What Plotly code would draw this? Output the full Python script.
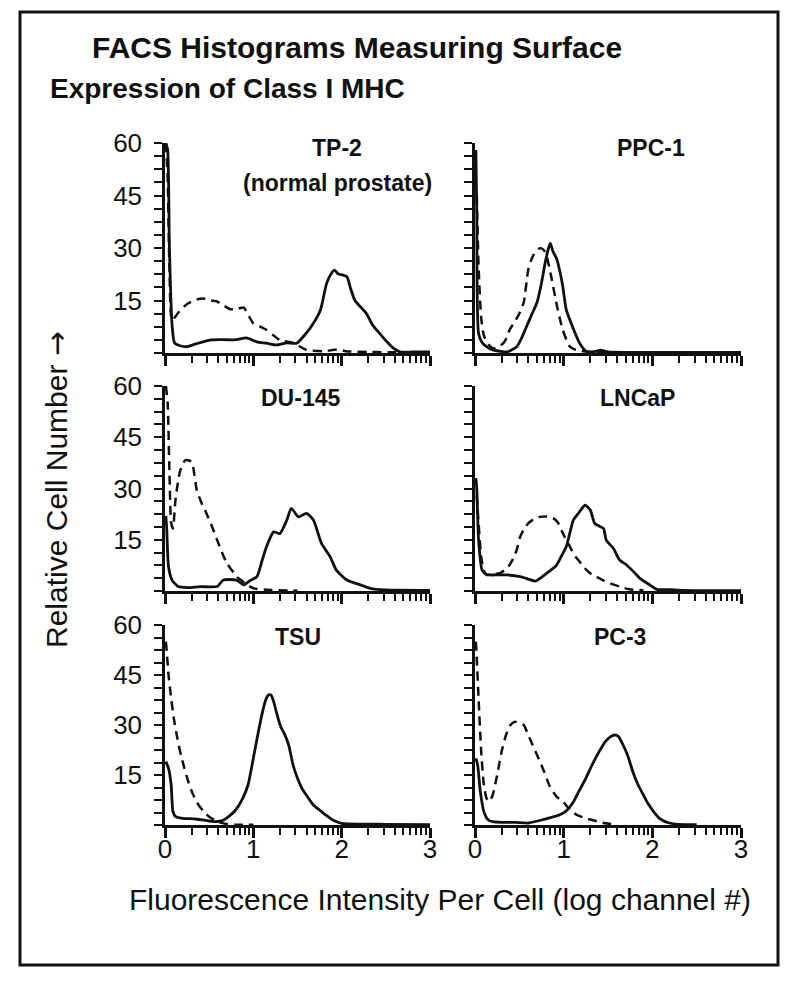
import plotly.graph_objects as go
import numpy as np

# ---------------- data ----------------
panel_names = ["TP-2", "PPC-1", "DU-145", "LNCaP", "TSU", "PC-3"]
panel_subtitles = ["(normal prostate)", "", "", "", "", ""]

tp2_solid_x = [0.01,0.03,0.05,0.08,0.11,0.18,0.25,0.35,0.51,0.65,0.81,0.92,1.04,1.15,1.26,1.38,1.49,1.6,1.68,1.76,1.83,1.89,1.92,1.96,2.01,2.06,2.1,2.15,2.22,2.28,2.35,2.43,2.52,2.59,2.66,2.8,3.0]
tp2_solid_y = [60,58,30,8,2.8,2.0,1.8,2.6,3.7,3.8,3.8,4.3,3.2,2.8,2.3,2.9,2.8,5.7,8.5,12.3,19.9,23,23.7,22.6,22.3,21.8,18.5,15,13,11.3,8,5.6,3,1.3,0.3,0.3,0.3]
tp2_dash_x = [0.01,0.03,0.05,0.08,0.15,0.25,0.36,0.43,0.52,0.59,0.67,0.74,0.82,0.89,0.95,1.0,1.08,1.15,1.23,1.3,1.45,1.6,1.8,1.95,2.05,2.3,2.6,3.0]
tp2_dash_y = [60,50,25,9.4,11.5,14,15.3,15.6,15,14.7,13.5,12.5,12.6,13,10.5,8.5,7.5,6.6,5,3.7,2.9,0.9,0.5,1,0.5,0.3,0.2,0.2]

ppc1_solid_x = [0.01,0.02,0.04,0.08,0.13,0.2,0.28,0.36,0.47,0.52,0.58,0.64,0.7,0.75,0.79,0.83,0.85,0.88,0.92,0.96,0.99,1.03,1.1,1.18,1.26,1.35,1.42,1.5,1.8,2.5,3.0]
ppc1_solid_y = [58,40,5.6,3,1.8,0.9,0.5,0.3,1.8,4,7.5,11,14.5,20,25.6,30,31.3,29,27,23,19,12.3,7.5,2.8,0.4,0.4,0.8,0.3,0.2,0.2,0.2]
ppc1_dash_x = [0.02,0.04,0.07,0.1,0.15,0.21,0.27,0.32,0.36,0.39,0.45,0.5,0.55,0.6,0.64,0.68,0.72,0.75,0.78,0.81,0.86,0.92,0.99,1.07,1.14,1.3,1.6,2.0]
ppc1_dash_y = [45,25,10,5,2.5,1.3,1.8,2.8,4.5,6.6,9,11.3,14.5,23.7,27,28.9,29.8,29.9,29.3,27.5,21.8,14,6.6,1.8,0.9,0.3,0.2,0.1]

du145_solid_x = [0.01,0.02,0.04,0.08,0.15,0.26,0.4,0.59,0.66,0.81,0.89,0.96,1.04,1.1,1.15,1.23,1.3,1.38,1.43,1.51,1.6,1.68,1.77,1.87,1.94,2.06,2.21,2.32,2.5,3.0]
du145_solid_y = [22,18,7.1,3.2,1.3,1.0,1.3,1.3,3.2,3.2,1.8,3,4.2,9,13,17.3,16.8,20.8,24.2,21.7,22.7,20.8,14,10,6.1,3.2,1.8,0.8,0.3,0.2]
du145_dash_x = [0.01,0.03,0.05,0.07,0.09,0.12,0.17,0.23,0.3,0.36,0.41,0.47,0.53,0.59,0.65,0.7,0.76,0.81,0.87,0.93,1.0,1.2,1.5]
du145_dash_y = [60,55,35,20,18.3,27,35,38.3,37.8,29.5,26,22.7,19,14.9,11,8.1,6,4.2,3,1.8,0.8,0.3,0.1]

lncap_solid_x = [0.01,0.02,0.04,0.08,0.12,0.17,0.26,0.36,0.51,0.6,0.68,0.75,0.81,0.87,0.92,0.97,1.03,1.07,1.11,1.18,1.24,1.3,1.35,1.4,1.45,1.48,1.56,1.63,1.71,1.79,1.86,1.97,2.05,2.2,2.35,3.0]
lncap_solid_y = [33,30,15,6.1,5,4.7,4.7,4.7,4.2,3.5,2.9,4,5.2,6.4,7.6,10,13,17,20.8,23.2,25.1,23.7,19.8,19,18.3,14.9,12.5,9.1,7.6,5.6,3.7,1.8,0.5,0.4,0.2,0.1]
lncap_dash_x = [0.02,0.04,0.07,0.1,0.13,0.2,0.28,0.34,0.39,0.43,0.47,0.51,0.55,0.6,0.66,0.73,0.8,0.85,0.9,0.94,0.98,1.01,1.05,1.09,1.13,1.18,1.22,1.26,1.31,1.37,1.44,1.52,1.63,1.74,1.9]
lncap_dash_y = [28,20,10,6,4.7,4.9,5.2,6.2,7.6,9.5,12,15.9,18,19.8,21,21.7,21.8,21.7,21,19.8,17.5,15.9,14,12,10.2,8.6,7.2,6.1,5,4.2,3.2,2.3,1.3,0.5,0.2]

tsu_solid_x = [0.01,0.04,0.07,0.09,0.12,0.2,0.35,0.5,0.58,0.65,0.72,0.8,0.88,0.94,1.0,1.05,1.1,1.14,1.17,1.2,1.23,1.27,1.31,1.35,1.4,1.45,1.5,1.55,1.6,1.68,1.75,1.82,1.9,2.0,2.5,3.0]
tsu_solid_y = [19,17,12,4,2.5,2,1.8,1.2,1.0,1.3,2.5,4.5,8,12,20,27,33.5,37.5,39,39,37,33,29.5,27.5,24,18,14,11,9,6,4.5,3,1.5,0.5,0.2,0.1]
tsu_dash_x = [0.01,0.02,0.04,0.07,0.1,0.14,0.18,0.22,0.27,0.32,0.38,0.44,0.5,0.56,0.62,0.7,0.8,1.0]
tsu_dash_y = [55,52,45,38,32,26,21,17,12.5,9,6,4,2.5,1.5,0.8,0.3,0.1,0.1]

pc3_solid_x = [0.01,0.03,0.06,0.1,0.15,0.2,0.3,0.45,0.6,0.75,0.85,0.95,1.02,1.1,1.17,1.25,1.32,1.4,1.47,1.53,1.58,1.62,1.67,1.72,1.78,1.84,1.9,1.95,2.02,2.09,2.19,2.3,2.5]
pc3_solid_y = [20,18,10,4,1.5,1,0.8,0.8,0.6,1.5,2.2,3,4,6.5,10,14,18,22,25,26.5,27,26.5,24,21,16,12,9,6.5,3.8,1.8,0.6,0.2,0.1]
pc3_dash_x = [0.01,0.02,0.04,0.07,0.1,0.13,0.16,0.2,0.25,0.3,0.35,0.4,0.45,0.5,0.55,0.6,0.65,0.7,0.78,0.84,0.92,1.0,1.05,1.15,1.25,1.35,1.47,1.6]
pc3_dash_y = [55,50,38,22,12,8,7,9,15,22,27,30,31,30.5,30,27,24,21,16,11.8,8.5,6.8,5.2,3,2,1.3,0.5,0.1]

y_tick_vals = [15, 30, 45, 60]
y_tick_text = ["15", "30", "45", "60"]
x_tick_vals = [0, 1, 2, 3]
x_tick_text = ["0", "1", "2", "3"]

solid_series = [(tp2_solid_x, tp2_solid_y), (ppc1_solid_x, ppc1_solid_y), (du145_solid_x, du145_solid_y),
                (lncap_solid_x, lncap_solid_y), (tsu_solid_x, tsu_solid_y), (pc3_solid_x, pc3_solid_y)]
dash_series = [(tp2_dash_x, tp2_dash_y), (ppc1_dash_x, ppc1_dash_y), (du145_dash_x, du145_dash_y),
               (lncap_dash_x, lncap_dash_y), (tsu_dash_x, tsu_dash_y), (pc3_dash_x, pc3_dash_y)]

# ---------------- layout geometry (window pixels) ----------------
# The page body has an 8px default margin, so the figure is sized to fit the
# 800x981 window and window-pixel positions are converted accordingly.
BODY = 8
W, H = 800 - BODY, 981 - BODY
col_px = [(165, 430), (475, 741)]
row_px = [(143, 353), (386, 591), (625, 825)]
label_pos = [(0.65, 0.975), (0.66, 0.975), (0.51, 0.94), (0.61, 0.94), (0.50, 0.94), (0.545, 0.94)]

def px_x(p):
    return (p - BODY) / W

def px_y(p):
    return 1 - (p - BODY) / H

FONT = "Liberation Sans, Arial, Helvetica, sans-serif"
INK = "#111111"

fig = go.Figure()
layout = dict(
    template="none",
    width=W, height=H,
    margin=dict(l=0, r=0, t=0, b=0, autoexpand=False),
    paper_bgcolor="white", plot_bgcolor="white",
    showlegend=False,
    font=dict(family=FONT, color=INK),
)

# minor log ticks for x axis
minor_x = []
for d in range(3):
    for k in range(2, 10):
        minor_x.append(d + np.log10(k))

annotations = []
for i in range(6):
    r, c = divmod(i, 2)
    idx = i + 1
    xa = "xaxis" if idx == 1 else f"xaxis{idx}"
    ya = "yaxis" if idx == 1 else f"yaxis{idx}"
    xr = "x" if idx == 1 else f"x{idx}"
    yr = "y" if idx == 1 else f"y{idx}"
    x0, x1 = col_px[c]
    y0, y1 = row_px[r]
    bottom = (r == 2)
    layout[xa] = dict(
        domain=[px_x(x0), px_x(x1)], anchor=yr, range=[0, 3], automargin=False,
        showgrid=False, zeroline=False,
        showline=True, linecolor=INK, linewidth=2.5,
        ticks="outside", ticklen=10, tickwidth=2.5, tickcolor=INK,
        tickvals=x_tick_vals, ticktext=x_tick_text,
        showticklabels=bottom, ticklabelstandoff=-11,
        tickfont=dict(family=FONT, size=26, color=INK),
        minor=dict(tickvals=minor_x, ticks="outside", ticklen=7, tickwidth=2, tickcolor=INK, showgrid=False),
        fixedrange=True,
    )
    layout[ya] = dict(
        domain=[px_y(y1), px_y(y0)], anchor=xr, range=[0, 60], automargin=False,
        showgrid=False, zeroline=False,
        showline=True, linecolor=INK, linewidth=2.5,
        ticks="outside", ticklen=8, tickwidth=2, tickcolor=INK,
        tickvals=y_tick_vals, ticktext=y_tick_text,
        showticklabels=(c == 0), ticklabelstandoff=7,
        tickfont=dict(family=FONT, size=26, color=INK),
        minor=dict(dtick=3.75, tick0=0, ticks="outside", ticklen=8, tickwidth=2, tickcolor=INK, showgrid=False),
        fixedrange=True,
    )
    sx, sy = solid_series[i]
    dx, dy = dash_series[i]
    fig.add_trace(go.Scatter(x=dx, y=dy, mode="lines", xaxis=xr, yaxis=yr,
                             line=dict(color=INK, width=2.5, dash="9px,6px", shape="spline", smoothing=0.6)))
    fig.add_trace(go.Scatter(x=sx, y=sy, mode="lines", xaxis=xr, yaxis=yr,
                             line=dict(color=INK, width=2.8, shape="spline", smoothing=0.6)))
    lx, ly = label_pos[i]
    annotations.append(dict(text=f"<b>{panel_names[i]}</b>", xref=f"{xr} domain", yref=f"{yr} domain",
                            x=lx, y=ly, xanchor="center", yanchor="middle",
                            showarrow=False, font=dict(family=FONT, size=23, color=INK)))
    if panel_subtitles[i]:
        annotations.append(dict(text=f"<b>{panel_subtitles[i]}</b>", xref=f"{xr} domain", yref=f"{yr} domain",
                                x=0.65, y=0.81, xanchor="center", yanchor="middle",
                                showarrow=False, font=dict(family=FONT, size=23, color=INK)))

# titles
annotations.append(dict(text="<b>FACS Histograms Measuring Surface</b>", xref="paper", yref="paper",
                        x=px_x(90), y=px_y(47), xanchor="left", yanchor="middle", showarrow=False,
                        font=dict(family=FONT, size=30, color=INK)))
annotations.append(dict(text="<b>Expression of Class I MHC</b>", xref="paper", yref="paper",
                        x=px_x(48), y=px_y(88), xanchor="left", yanchor="middle", showarrow=False,
                        font=dict(family=FONT, size=28, color=INK)))
annotations.append(dict(text="Relative Cell Number <span style='font-family:DejaVu Sans'>→</span>",
                        xref="paper", yref="paper",
                        x=px_x(57), y=px_y(490), xanchor="center", yanchor="middle", textangle=-90,
                        showarrow=False, font=dict(family=FONT, size=30, color=INK)))
annotations.append(dict(text="Fluorescence Intensity Per Cell (log channel #)", xref="paper", yref="paper",
                        x=px_x(440), y=px_y(899), xanchor="center", yanchor="middle",
                        showarrow=False, font=dict(family=FONT, size=30, color=INK)))

layout["annotations"] = annotations
layout["shapes"] = [dict(type="rect", xref="paper", yref="paper",
                         x0=px_x(20), x1=px_x(778), y0=px_y(965), y1=px_y(12),
                         line=dict(color=INK, width=3), fillcolor="rgba(0,0,0,0)")]
fig.update_layout(**layout)
fig.write_html("out.html")
